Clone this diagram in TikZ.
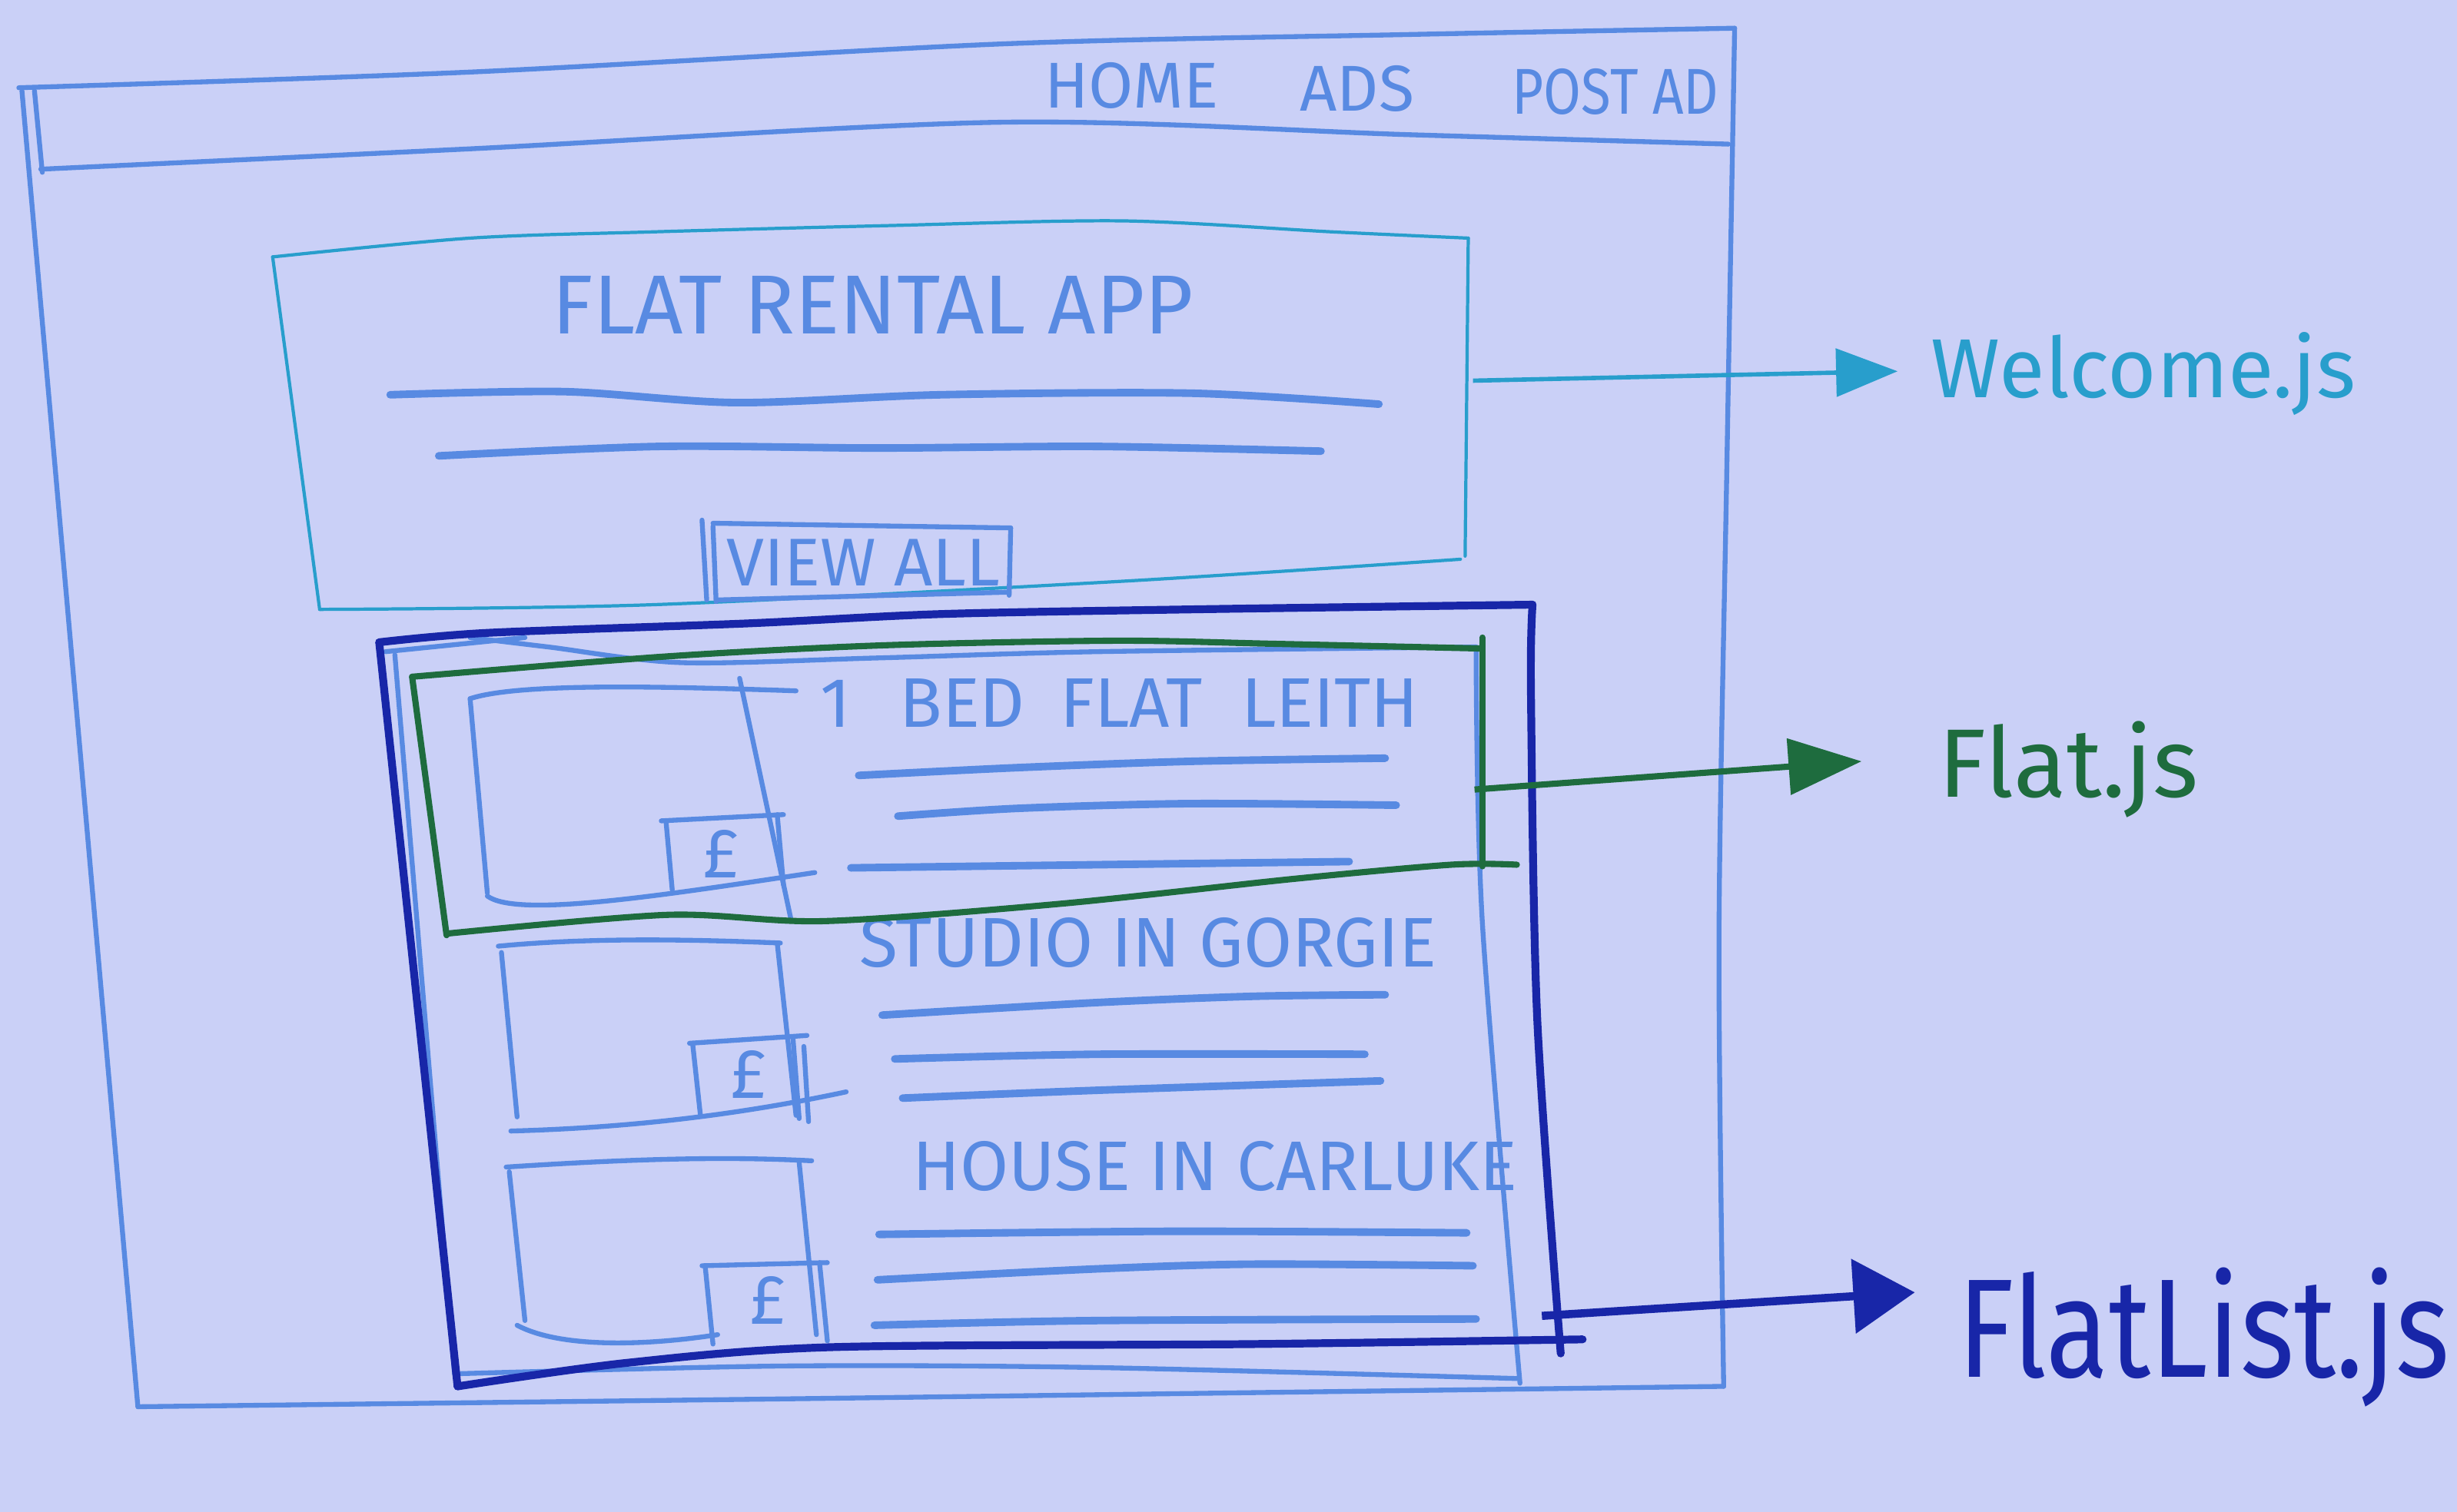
\documentclass[tikz,border=0pt]{standalone}
\usepackage{fontspec}
\setmainfont{Fira Sans}
\usetikzlibrary{arrows.meta}

\definecolor{paper}{RGB}{202,208,247}
\definecolor{pen}{RGB}{88,138,226}
\definecolor{tealpen}{RGB}{40,158,204}
\definecolor{inkblue}{RGB}{24,38,168}
\definecolor{greenpen}{RGB}{30,108,62}

\tikzset{
  frame/.style={line width=1.8pt, pen, line cap=round, line join=round},
  stroke/.style={line width=2.8pt, pen, line cap=round},
  welcomebox/.style={line width=1.2pt, tealpen, line cap=round, line join=round},
  listbox/.style={line width=2.9pt, inkblue, line cap=round, line join=round},
  flatbox/.style={line width=2.3pt, greenpen, line cap=round, line join=round},
  caps/.style={text=pen, anchor=base, inner sep=0pt, font=\fontsize{24}{28}\selectfont},
  cardtitle/.style={caps, anchor=base west, font=\fontsize{26}{30}\selectfont},
  pound/.style={text=pen, anchor=center, inner sep=0pt, font=\fontsize{26}{30}\selectfont},
  label/.style={anchor=base west, inner sep=0pt},
}

\begin{document}
\begin{tikzpicture}[x=0.02039cm, y=-0.02039cm]
  \fill[paper] (0,0) rectangle (1568,965);
  \useasboundingbox (0,0) rectangle (1568,965);

  % browser window and navigation bar
  \draw[frame] plot[smooth] coordinates {(12,56) (300,46) (640,28) (900,22) (1107,18)};
  \draw[frame] (14,58) -- (88,898);
  \draw[frame] (22,58) -- (27,110);
  \draw[frame] plot[smooth] coordinates {(88,898) (500,893) (800,889) (1100,885)};
  \draw[frame] plot[smooth] coordinates {(1107,18) (1102,300) (1097,600) (1100,885)};
  \draw[frame] plot[smooth] coordinates {(26,108) (300,95) (640,78) (900,86) (1103,92)};

  \node[caps] (home) at (722,69) {HOME};
  \node[caps] (ads)  at (866,71) {ADS};
  \node[caps] (post) at (1031,73) {\scalebox{0.84}[1]{POST AD}};

  % welcome panel
  \draw[welcomebox] plot[smooth] coordinates {(174,164) (300,152) (417,148) (567,144) (717,141) (850,148) (937,152)};
  \draw[welcomebox] (937,152) -- (935,355);
  \draw[welcomebox] plot[smooth] coordinates {(932,357) (717,371) (417,386) (204,389)};
  \draw[welcomebox] (174,164) -- (204,389);

  \node[caps, font=\fontsize{31}{34}\selectfont] (apptitle) at (557,213) {FLAT RENTAL APP};
  \draw[stroke] plot[smooth] coordinates {(249,252) (360,250) (470,257) (600,252) (760,251) (880,258)};
  \draw[stroke] plot[smooth] coordinates {(280,291) (420,285) (560,286) (700,285) (843,288)};

  % view all button
  \draw[frame] (448,332) -- (451,383);
  \draw[frame] (455,336) -- (457,384);
  \draw[frame] (455,334) -- (645,337);
  \draw[frame] (645,337) -- (644,380);
  \draw[frame] (457,383) -- (644,378);
  \node[caps, font=\fontsize{25}{28}\selectfont] (viewall) at (551,374) {VIEW ALL};

  % list container (light outline)
  \draw[frame] (246,416) -- (335,407);
  \draw[frame] plot[smooth] coordinates {(300,407) (350,413) (435,423) (560,420) (700,416) (942,413)};
  \draw[frame] (252,418) -- (290,876);
  \draw[frame] plot[smooth] coordinates {(942,413) (946,589) (970,883)};
  \draw[frame] plot[smooth] coordinates {(290,877) (500,872) (700,873) (968,880)};

  % card 1
  \draw[frame] (300,446) .. controls (330,436) and (420,438) .. (508,441);
  \draw[frame] (472,433) -- (505,588);
  \draw[frame] (300,446) -- (311,570);
  \draw[frame] (311,572) .. controls (330,586) and (420,572) .. (520,557);
  \draw[frame] (422,524) -- (500,520);
  \draw[frame] (425,524) -- (429,568);
  \draw[frame] (496,520) -- (500,565);
  \node[pound] (price1) at (460,545) {£};
  \node[cardtitle] (title1) at (523,464) {1\hspace{0.7em}BED\hspace{0.5em}FLAT\hspace{0.55em}LEITH};
  \draw[stroke] plot[smooth] coordinates {(548,495) (650,490) (760,486) (884,484)};
  \draw[stroke] plot[smooth] coordinates {(573,521) (650,516) (760,513) (891,514)};
  \draw[stroke] plot[smooth] coordinates {(543,554) (700,552) (861,550)};

  % card 2
  \draw[frame] (318,604) .. controls (380,598) and (450,600) .. (498,602);
  \draw[frame] (320,608) -- (330,713);
  \draw[frame] (496,602) -- (508,712);
  \draw[frame] (513,668) -- (516,716);
  \draw[frame] (326,722) .. controls (400,720) and (470,712) .. (540,697);
  \draw[frame] (440,666) -- (515,661);
  \draw[frame] (442,666) -- (447,712);
  \draw[frame] (506,662) -- (510,714);
  \node[pound] (price2) at (478,686) {£};
  \node[cardtitle] (title2) at (548,617) {STUDIO IN GORGIE};
  \draw[stroke] plot[smooth] coordinates {(563,648) (700,640) (800,636) (884,635)};
  \draw[stroke] plot[smooth] coordinates {(571,676) (700,673) (871,673)};
  \draw[stroke] plot[smooth] coordinates {(576,701) (700,696) (881,690)};

  % card 3
  \draw[frame] (323,745) .. controls (400,740) and (460,738) .. (518,741);
  \draw[frame] (325,748) -- (335,843);
  \draw[frame] (510,742) -- (521,852);
  \draw[frame] (330,846) .. controls (360,862) and (420,858) .. (458,852);
  \draw[frame] (448,808) -- (528,806);
  \draw[frame] (450,808) -- (455,858);
  \draw[frame] (523,806) -- (528,856);
  \node[pound] (price3) at (490,830) {£};
  \node[cardtitle] (title3) at (582,760) {HOUSE IN CARLUKE};
  \draw[stroke] plot[smooth] coordinates {(561,788) (750,786) (936,787)};
  \draw[stroke] plot[smooth] coordinates {(560,817) (700,810) (800,807) (940,808)};
  \draw[stroke] plot[smooth] coordinates {(558,846) (700,843) (942,842)};

  % flat component outline
  \draw[flatbox] plot[smooth] coordinates {(263,432) (426,419) (562,412) (712,409) (814,411) (946,414)};
  \draw[flatbox] (946,407) -- (946,553);
  \draw[flatbox] plot[smooth] coordinates {(285,596) (426,584) (526,588) (676,577) (826,561) (926,552) (968,552)};
  \draw[flatbox] (263,432) -- (285,597);

  % flat list component outline
  \draw[listbox] plot[smooth] coordinates {(242,410) (311,404) (476,398) (600,392) (760,389) (978,386)};
  \draw[listbox] plot[smooth] coordinates {(978,386) (977,441) (981,650) (996,864)};
  \draw[listbox] plot[smooth] coordinates {(292,885) (400,870) (530,860) (800,858) (1010,855)};
  \draw[listbox] (242,410) -- (292,885);

  % component labels
  \node[label, text=tealpen, font=\fontsize{31}{34}\selectfont] (welcomejs) at (1232,254) {Welcome.js};
  \node[label, text=greenpen, font=\fontsize{36}{40}\selectfont] (flatjs) at (1237,509) {Flat.js};
  \node[label, text=inkblue, font=\fontsize{52}{56}\selectfont] (flatlistjs) at (1249,879) {\scalebox{0.82}[1]{FlatList.js}};

  % connector ends
  \coordinate (welcomeout) at (940,243);
  \coordinate (welcometip) at (1211,237);
  \coordinate (flatout) at (941,504);
  \coordinate (flattip) at (1188,486);
  \coordinate (listout) at (984,840);
  \coordinate (listtip) at (1222,825);

  \draw[line width=1.6pt, tealpen, -{Triangle[length=0.8cm, width=0.62cm]}] (welcomeout) -- (welcometip);
  \draw[line width=2.3pt, greenpen, -{Triangle[length=0.95cm, width=0.72cm]}] (flatout) -- (flattip);
  \draw[line width=3pt, inkblue, -{Triangle[length=0.8cm, width=0.95cm]}] (listout) -- (listtip);
\end{tikzpicture}
\end{document}
